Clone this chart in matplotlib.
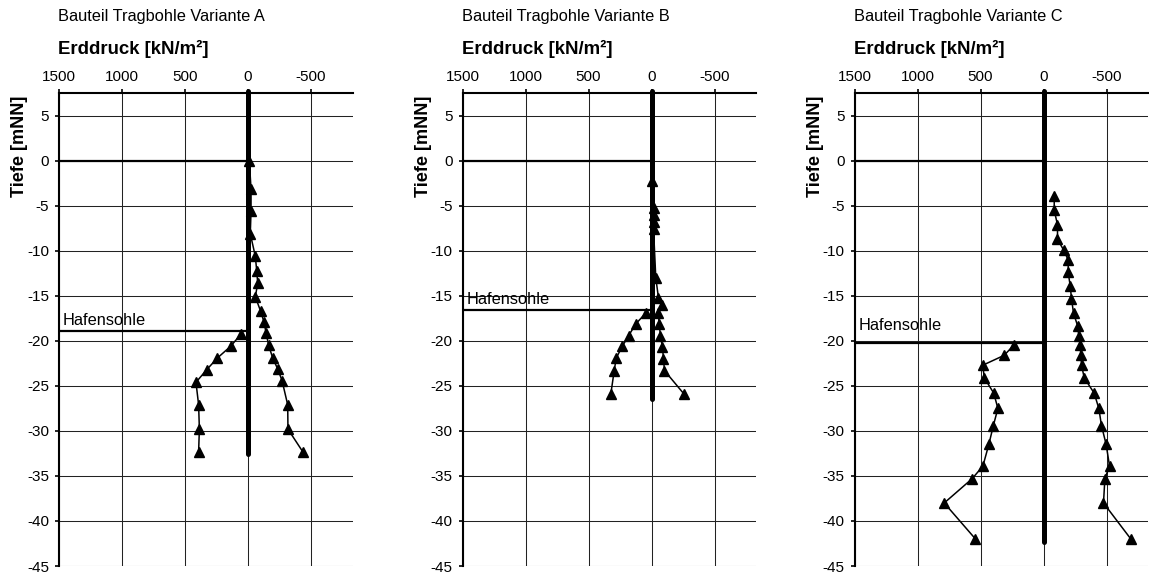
import matplotlib
matplotlib.use("Agg")
import matplotlib.pyplot as plt
from matplotlib.ticker import FixedLocator, FuncFormatter

plt.rcParams['font.family'] = ['Liberation Sans', 'DejaVu Sans']
plt.rcParams['axes.unicode_minus'] = False

# ---------------- data ----------------
titles = ["Bauteil Tragbohle Variante A", "Bauteil Tragbohle Variante B", "Bauteil Tragbohle Variante C"]
x_ticks = [1500, 1000, 500, 0, -500]
y_ticks = [5, 0, -5, -10, -15, -20, -25, -30, -35, -40, -45]

depth_A_act = [0.0, -3.1, -5.6, -8.1, -10.6, -12.2, -13.6, -15.1, -16.7, -17.9, -19.1, -20.5, -21.9, -23.1, -24.4, -27.1, -29.8, -32.3]
e_A_act = [-10, -24, -24, -18, -58, -69, -77, -58, -100, -127, -143, -164, -196, -235, -270, -315, -317, -434]
depth_A_pas = [-19.2, -20.6, -21.9, -23.2, -24.6, -27.1, -29.8, -32.3]
e_A_pas = [53, 138, 243, 328, 413, 392, 386, 392]

depth_B_act = [-2.2, -5.2, -6.0, -6.8, -7.6, -13.0, -15.2, -16.0, -16.9, -18.1, -19.4, -20.7, -22.0, -23.3, -25.9]
e_B_act = [0, -16, -16, -16, -16, -34, -55, -82, -55, -60, -71, -87, -95, -103, -258]
depth_B_pas = [-16.9, -18.1, -19.4, -20.6, -21.9, -23.3, -25.9]
e_B_pas = [45, 124, 181, 232, 280, 296, 323]

depth_C_act = [-3.9, -5.5, -7.1, -8.7, -9.9, -11.0, -12.4, -13.9, -15.3, -16.9, -18.3, -19.4, -20.5, -21.6, -22.7, -24.1, -25.8, -27.5, -29.4, -31.5, -33.9, -35.3, -38.0, -42.0]
e_C_act = [-85, -85, -111, -111, -159, -196, -196, -212, -222, -238, -270, -280, -291, -296, -302, -323, -402, -439, -460, -497, -524, -487, -476, -693]
depth_C_pas = [-20.5, -21.6, -22.7, -24.1, -25.8, -27.5, -29.4, -31.5, -33.9, -35.3, -38.0, -42.0]
e_C_pas = [238, 312, 482, 470, 395, 362, 398, 434, 481, 566, 788, 540]

wall_bottom = [-32.6, -26.5, -42.3]
hafensohle = [-18.85, -16.6, -20.2]
hafen_label_y = [-18.2, -15.9, -18.8]
gok = 0.0

act = [(e_A_act, depth_A_act), (e_B_act, depth_B_act), (e_C_act, depth_C_act)]
pas = [(e_A_pas, depth_A_pas), (e_B_pas, depth_B_pas), (e_C_pas, depth_C_pas)]

# ---------------- layout ----------------
W, H = 1149, 579
fig = plt.figure(figsize=(W / 100, H / 100), dpi=100)
XMIN, XMAX = 1500, -830
YMIN, YMAX = -45, 7.5
lefts = [59, 462.5, 854.5]
ax_w = 293.6
top_px, bot_px = 93.3, 566

for i in range(3):
    l = lefts[i]
    ax = fig.add_axes([l / W, (H - bot_px) / H, ax_w / W, (bot_px - top_px) / H])
    ax.set_xlim(XMIN, XMAX)
    ax.set_ylim(YMIN, YMAX)
    for s in ['right', 'bottom']:
        ax.spines[s].set_visible(False)
    for s in ['top', 'left']:
        ax.spines[s].set_linewidth(1.5)
        ax.spines[s].set_color('black')
    ax.xaxis.tick_top()
    ax.xaxis.set_major_locator(FixedLocator(x_ticks))
    ax.xaxis.set_major_formatter(FuncFormatter(lambda v, p: "%d" % v))
    ax.yaxis.set_major_locator(FixedLocator(y_ticks))
    ax.yaxis.set_major_formatter(FuncFormatter(lambda v, p: "%d" % v))
    ax.tick_params(axis='x', direction='out', length=3, width=1.2, pad=4, labelsize=11)
    ax.tick_params(axis='y', direction='out', length=3, width=1.2, pad=4, labelsize=11)
    ax.grid(True, color='#222222', linewidth=0.75)
    ax.set_axisbelow(True)

    # ground surface and harbour bottom
    ax.plot([XMIN, 0], [gok, gok], color='black', lw=1.6, solid_capstyle='butt', zorder=3)
    ax.plot([XMIN, 0], [hafensohle[i], hafensohle[i]], color='black', lw=1.6, solid_capstyle='butt', zorder=3)
    ax.text(1468, hafen_label_y[i], "Hafensohle", fontsize=11.8, va='baseline', ha='left', zorder=4)

    # wall
    ax.plot([0, 0], [YMAX + 0.3, wall_bottom[i]], color='black', lw=3.6, solid_capstyle='round', zorder=4, clip_on=False)

    # earth pressures
    ex, ey = act[i]
    ax.plot(ex, ey, color='black', lw=1.1, marker='^', ms=7, zorder=5)
    px_, py_ = pas[i]
    ax.plot(px_, py_, color='black', lw=1.1, marker='^', ms=7, zorder=5)

    fig.text((l - 1) / W, 1 - 16.5 / H, titles[i], fontsize=11.8, ha='left', va='center')
    fig.text((l - 1) / W, 1 - 48.5 / H, "Erddruck [kN/m²]", fontsize=13.4, fontweight='bold', ha='left', va='center')
    fig.text((l - 39) / W, 1 - 146.5 / H, "Tiefe [mNN]", fontsize=13.1, fontweight='bold', rotation=90, ha='center', va='center')

fig.savefig("out.png", dpi=100)
